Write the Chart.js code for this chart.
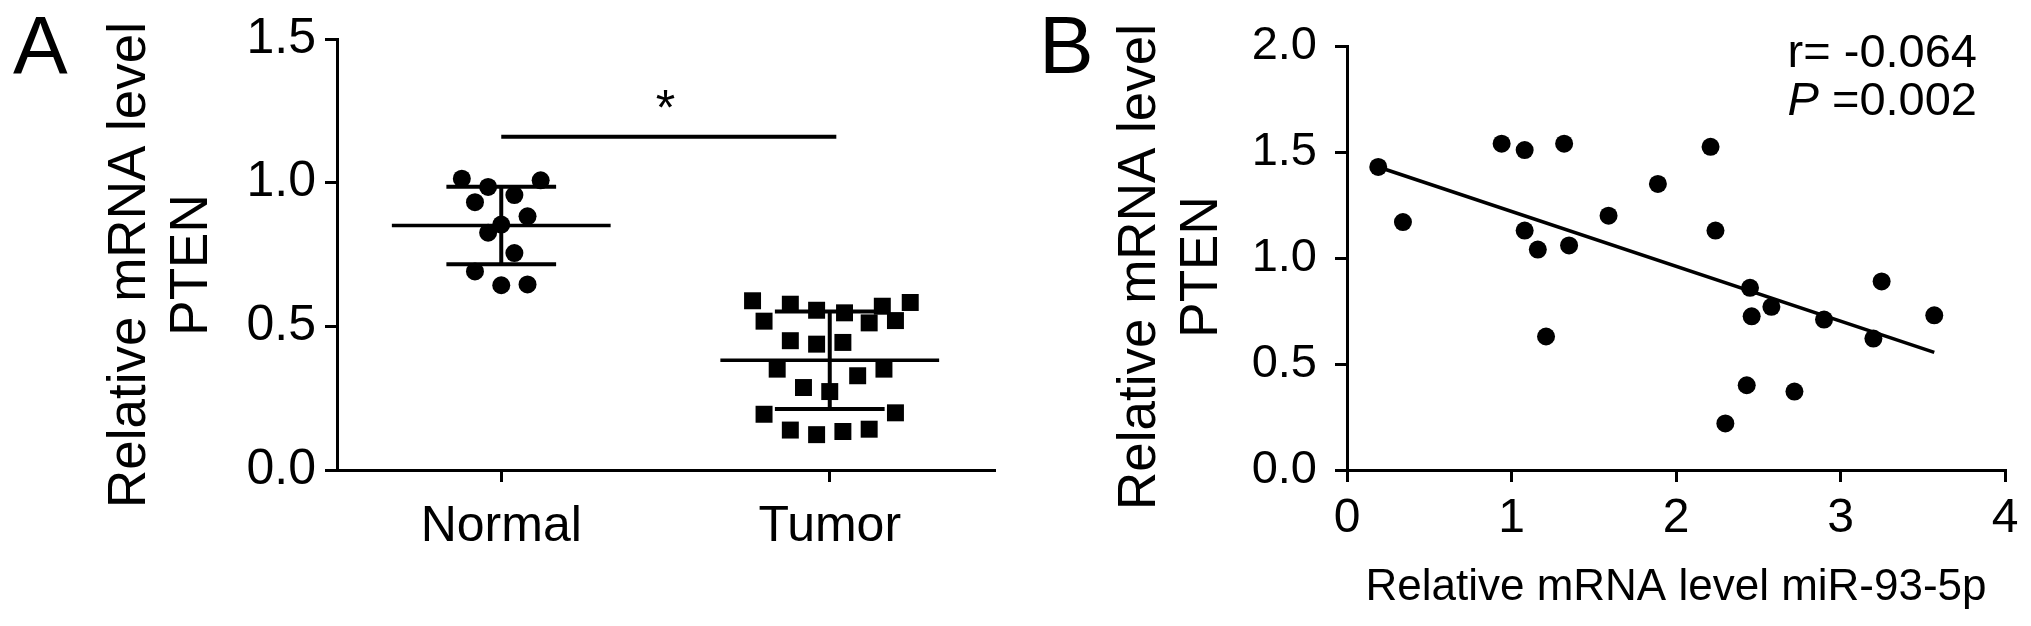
<!DOCTYPE html>
<html>
<head>
<meta charset="utf-8">
<script src="https://cdn.jsdelivr.net/npm/chart.js@4.4.1/dist/chart.umd.min.js"></script>
<style>
  body { margin: 0; background: #fff; width: 2031px; height: 626px; overflow: hidden; position: relative; }
  .panel { position: absolute; top: 0; height: 626px; }
  #boxA { left: 0; width: 1010px; }
  #boxB { left: 1010px; width: 1021px; }
</style>
</head>
<body>
<div class="panel" id="boxA"><canvas id="chartA"></canvas></div>
<div class="panel" id="boxB"><canvas id="chartB"></canvas></div>
<script>
// ---- panel A : PTEN in normal vs tumor tissue ----
const groups = ["Normal", "Tumor"];
const normalX = [0.88, 0.96, 1.12, 0.92, 1.04, 1.08, 1.00, 0.96, 1.04, 0.92, 1.00, 1.08];
const normalY = [1.014, 0.985, 1.008, 0.932, 0.957, 0.883, 0.854, 0.826, 0.755, 0.691, 0.643, 0.646];
const tumorX = [1.765, 1.88, 1.96, 2.045, 2.16, 2.245, 1.80, 2.12, 2.20, 1.88, 1.96, 2.04,
                1.84, 2.085, 2.165, 1.92, 2.00, 1.80, 2.20, 1.88, 1.96, 2.04, 2.12];
const tumorY = [0.589, 0.577, 0.556, 0.547, 0.570, 0.583, 0.518, 0.512, 0.520, 0.450, 0.438, 0.444,
                0.351, 0.328, 0.351, 0.287, 0.273, 0.194, 0.199, 0.139, 0.123, 0.134, 0.142];
const groupMean = [0.851, 0.382];
const groupSD = [0.135, 0.170];
const sigX = [1.0, 2.02];
const sigY = 1.16;
const sigMark = "*";
const yTicksA = [0, 0.5, 1.0, 1.5];

// ---- panel B : PTEN vs miR-93-5p ----
const mirX = [0.19, 0.34, 0.94, 1.08, 1.32, 1.08, 1.16, 1.35, 1.59, 1.89, 2.21, 2.24,
              2.45, 2.58, 2.46, 2.90, 3.25, 3.57, 3.20, 2.43, 2.72, 2.30, 1.21];
const ptenY = [1.43, 1.17, 1.54, 1.51, 1.54, 1.13, 1.04, 1.06, 1.20, 1.35, 1.525, 1.13,
               0.86, 0.77, 0.725, 0.71, 0.89, 0.73, 0.62, 0.40, 0.37, 0.22, 0.63];
const fitX = [0.19, 3.57];
const fitY = [1.43, 0.555];
const xTicksB = [0, 1, 2, 3, 4];
const yTicksB = [0, 0.5, 1.0, 1.5, 2.0];
const rText = "r= -0.064";
const pText = "=0.002";

const yTitleLines = ["Relative mRNA level", "PTEN"];
const xTitleB = "Relative mRNA level miR-93-5p";

const FONT = '"Liberation Sans", Arial, Helvetica, sans-serif';
Chart.defaults.font.family = FONT;
Chart.defaults.color = "#000";

function pts(xs, ys) {
  return xs.map((x, i) => ({ x: x, y: ys[i] }));
}

// rotated two-line y title + panel letter, drawn next to the y axis
const sideText = {
  id: "sideText",
  afterDraw(chart, args, opts) {
    const ctx = chart.ctx;
    const left = chart.chartArea.left;
    ctx.save();
    ctx.fillStyle = "#000";
    ctx.font = "53px " + FONT;
    ctx.textAlign = "center";
    ctx.textBaseline = "alphabetic";
    yTitleLines.forEach((line, i) => {
      ctx.save();
      ctx.translate(left - 192 + i * 62, opts.midY);
      ctx.rotate(-Math.PI / 2);
      ctx.fillText(line, 0, 0);
      ctx.restore();
    });
    ctx.font = "82px " + FONT;
    ctx.textAlign = "left";
    ctx.fillText(opts.letter, opts.letterX, 73);
    ctx.restore();
  }
};

// the significance star over the bar in panel A
const starText = {
  id: "starText",
  afterDatasetsDraw(chart) {
    const ctx = chart.ctx;
    const x = chart.scales.x.getPixelForValue(1.5);
    const y = chart.scales.y.getPixelForValue(sigY);
    ctx.save();
    ctx.fillStyle = "#000";
    ctx.font = "50px " + FONT;
    ctx.textAlign = "center";
    ctx.textBaseline = "alphabetic";
    ctx.fillText(sigMark, x, y - 12);
    ctx.restore();
  }
};

// r and P values in panel B
const statText = {
  id: "statText",
  afterDraw(chart) {
    const ctx = chart.ctx;
    const right = chart.chartArea.right - 28;
    ctx.save();
    ctx.fillStyle = "#000";
    ctx.textAlign = "right";
    ctx.textBaseline = "alphabetic";
    ctx.font = "47px " + FONT;
    ctx.fillText(rText, right, 67);
    ctx.fillText(pText, right, 115);
    const w = ctx.measureText(" " + pText).width;
    ctx.font = "italic 47px " + FONT;
    ctx.fillText("P", right - w, 115);
    ctx.restore();
  }
};

function axisStyle() {
  return {
    grid: { drawOnChartArea: false, drawTicks: true, tickLength: 12, lineWidth: 3, color: "#000" },
    border: { display: true, color: "#000", width: 3 }
  };
}

// ---------- chart A ----------
const dsA = [
  { type: "scatter", data: pts(normalX, normalY), pointStyle: "circle", pointRadius: 9,
    backgroundColor: "#000", borderWidth: 0 },
  { type: "scatter", data: pts(tumorX, tumorY), pointStyle: "rect", pointRadius: 12,
    backgroundColor: "#000", borderWidth: 0 }
];
groups.forEach((g, i) => {
  const c = i + 1, m = groupMean[i], s = groupSD[i];
  const segs = [
    [[c - 0.333, m], [c + 0.333, m], 3.5],
    [[c - 0.167, m + s], [c + 0.167, m + s], 4],
    [[c - 0.167, m - s], [c + 0.167, m - s], 4],
    [[c, m - s], [c, m + s], 4]
  ];
  segs.forEach(sg => {
    dsA.push({ type: "line", data: [{ x: sg[0][0], y: sg[0][1] }, { x: sg[1][0], y: sg[1][1] }],
      borderColor: "#000", borderWidth: sg[2], pointRadius: 0, borderCapStyle: "butt" });
  });
});
dsA.push({ type: "line", data: pts(sigX, [sigY, sigY]), borderColor: "#000", borderWidth: 4,
  pointRadius: 0 });

new Chart(document.getElementById("chartA"), {
  type: "scatter",
  data: { datasets: dsA },
  options: {
    responsive: true,
    maintainAspectRatio: false,
    animation: false,
    events: [],
    layout: { padding: { top: 31, right: 16, bottom: 0, left: 0 } },
    plugins: {
      legend: { display: false },
      tooltip: { enabled: false },
      sideText: { midY: 265, letter: "A", letterX: 13 }
    },
    scales: {
      x: Object.assign(axisStyle(), {
        type: "linear", min: 0.5, max: 2.5,
        afterBuildTicks: s => { s.ticks = groups.map((g, i) => ({ value: i + 1 })); },
        ticks: { font: { size: 50 }, padding: 15, color: "#000",
          callback: v => groups[Math.round(v) - 1] },
        afterFit: s => { s.height = 156; }
      }),
      y: Object.assign(axisStyle(), {
        type: "linear", min: 0, max: 1.5,
        afterBuildTicks: s => { s.ticks = yTicksA.map(v => ({ value: v })); },
        ticks: { font: { size: 50 }, padding: 9, color: "#000", callback: v => v.toFixed(1) },
        afterFit: s => { s.width = 337; }
      })
    }
  },
  plugins: [sideText, starText]
});

// ---------- chart B ----------
new Chart(document.getElementById("chartB"), {
  type: "scatter",
  data: {
    datasets: [
      { type: "scatter", data: pts(mirX, ptenY), pointStyle: "circle", pointRadius: 9,
        backgroundColor: "#000", borderWidth: 0 },
      { type: "line", data: pts(fitX, fitY), borderColor: "#000", borderWidth: 3.5,
        pointRadius: 0 }
    ]
  },
  options: {
    responsive: true,
    maintainAspectRatio: false,
    animation: false,
    events: [],
    layout: { padding: { top: 33, right: 26, bottom: 0, left: 0 } },
    plugins: {
      legend: { display: false },
      tooltip: { enabled: false },
      sideText: { midY: 267, letter: "B", letterX: 29 }
    },
    scales: {
      x: Object.assign(axisStyle(), {
        type: "linear", min: 0, max: 4,
        afterBuildTicks: s => { s.ticks = xTicksB.map(v => ({ value: v })); },
        ticks: { font: { size: 48 }, padding: 8, color: "#000", callback: v => String(v) },
        title: { display: true, text: xTitleB, font: { size: 44 }, color: "#000",
          padding: { top: 0, bottom: 12 } },
        afterFit: s => { s.height = 156; }
      }),
      y: Object.assign(axisStyle(), {
        type: "linear", min: 0, max: 2,
        afterBuildTicks: s => { s.ticks = yTicksB.map(v => ({ value: v })); },
        ticks: { font: { size: 47 }, padding: 18, color: "#000", callback: v => v.toFixed(1) },
        afterFit: s => { s.width = 337; }
      })
    }
  },
  plugins: [sideText, statText]
});
</script>
</body>
</html>
